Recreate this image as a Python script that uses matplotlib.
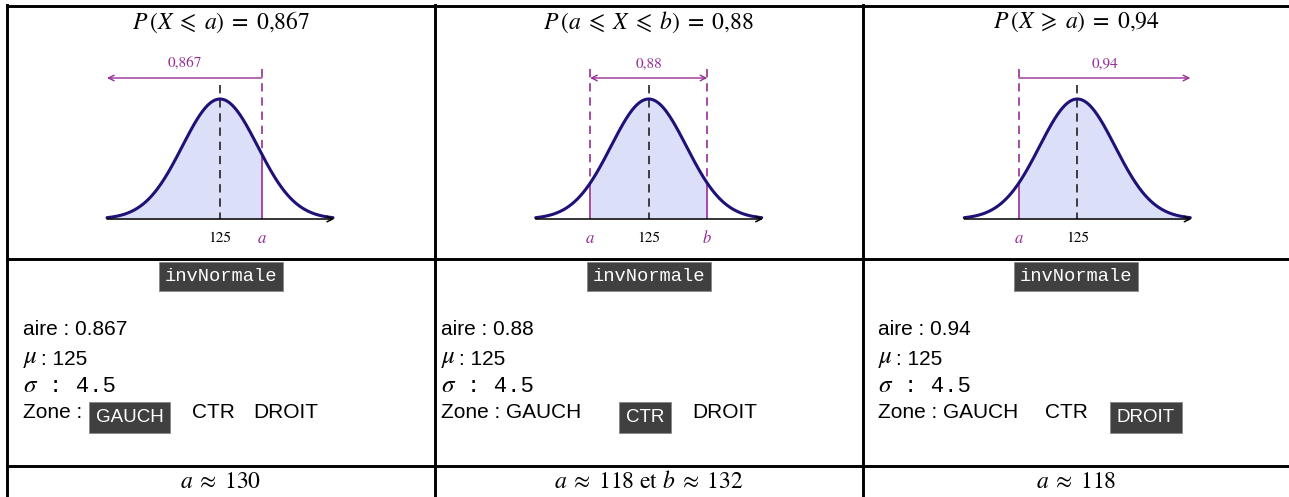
import numpy as np
import matplotlib.pyplot as plt

plt.rcParams['mathtext.fontset'] = 'stix'

# loi normale utilisée dans les trois cas
mu = 125
sigma = 4.5
aires = [0.867, 0.88, 0.94]
zones = ['GAUCH', 'CTR', 'DROIT']
titres = [r'$P\,(X\;\leqslant\;a)\;=\;0{,}867$',
          r'$P\,(a\;\leqslant\;X\;\leqslant\;b)\;=\;0{,}88$',
          r'$P\,(X\;\geqslant\;a)\;=\;0{,}94$']
etiquettes = ['0,867', '0,88', '0,94']
bornes = [[130], [118, 132], [118]]
resultats = [r'$a\;\approx\;130$',
             r'$a\;\approx\;118\ \mathrm{et}\ b\;\approx\;132$',
             r'$a\;\approx\;118$']

W, H = 1289, 497
BLEU = '#1e1278'
REMPL = '#dbe0f8'
VIOLET = '#952f95'
GRIS = '#404040'
SANS = 'Liberation Sans'
MONO = 'Liberation Mono'

fig = plt.figure(figsize=(W / 100, H / 100), dpi=100)
ax0 = fig.add_axes([0, 0, 1, 1])
ax0.set_xlim(0, W)
ax0.set_ylim(H, 0)
ax0.axis('off')

# tableau
cols = [7, 435, 862.5, W + 5]
for xc in cols:
    ax0.plot([xc, xc], [5, H + 5], color='black', lw=2.1, solid_capstyle='projecting')
for yl in [5.5, 259, 466]:
    ax0.plot([7, W + 5], [yl, yl], color='black', lw=2.1, solid_capstyle='projecting')

centres = [221, 648.7, 1076]
centres_courbe = [220, 648.7, 1077.3]
gauches = [23, 441, 878]


def px_axes(left, top, width, height):
    return fig.add_axes([left / W, 1 - (top + height) / H, width / W, height / H])


def densite(t):
    return np.exp(-0.5 * ((t - mu) / sigma) ** 2) / (sigma * np.sqrt(2 * np.pi))


pdf_max = densite(mu)
x = np.linspace(mu - 3 * sigma, mu + 3 * sigma, 400)
y = densite(x)

for i in range(3):
    c = centres_courbe[i]
    ax = px_axes(c - 113, 59, 226, 160)
    ax.set_xlim(mu - 3 * sigma, mu + 3 * sigma)
    ax.set_ylim(0, pdf_max * 160 / 120)
    ax.axis('off')

    zone = zones[i]
    if zone == 'GAUCH':
        m = x <= bornes[i][0]
    elif zone == 'CTR':
        m = (x >= bornes[i][0]) & (x <= bornes[i][1])
    else:
        m = x >= bornes[i][0]
    ax.fill_between(x[m], 0, y[m], color=REMPL, lw=0)

    # axe des abscisses
    ax.annotate('', xy=(mu + 3 * sigma + 0.15, 0), xytext=(mu - 3 * sigma, 0),
                arrowprops=dict(arrowstyle='->', color='black', lw=1.1,
                                shrinkA=0, shrinkB=0), annotation_clip=False)

    # moyenne (tirets tracés depuis le haut)
    ax.plot([mu, mu], [pdf_max * 134 / 120, 0], color='#222222', lw=1.2,
            dashes=(5, 3.5))
    ax.text(mu, -pdf_max * 19 / 120, '125', ha='center', va='center',
            fontsize=11, family='STIXGeneral', clip_on=False)

    # bornes a et b
    noms = ['a', 'b']
    for k, b in enumerate(bornes[i]):
        yb = densite(b)
        ax.plot([b, b], [pdf_max * 150 / 120, yb], color=VIOLET, lw=1.2,
                dashes=(5, 3.5))
        ax.plot([b, b], [0, yb], color=VIOLET, lw=1.2)
        ax.text(b, -pdf_max * 19 / 120, '$' + noms[k] + '$', ha='center',
                va='center', fontsize=12, color=VIOLET, clip_on=False)

    ax.plot(x, y, color=BLEU, lw=2.2, solid_capstyle='round', clip_on=False)

    # flèche de l'aire
    ya = pdf_max * 141 / 120
    if zone == 'GAUCH':
        x1, x2, style = bornes[i][0], mu - 3 * sigma, '->'
    elif zone == 'CTR':
        x1, x2, style = bornes[i][0], bornes[i][1], '<->'
    else:
        x1, x2, style = bornes[i][0], mu + 3 * sigma, '->'
    ax.annotate('', xy=(x2, ya), xytext=(x1, ya),
                arrowprops=dict(arrowstyle=style, color=VIOLET, lw=1,
                                shrinkA=0, shrinkB=0), annotation_clip=False)
    ax.text((x1 + x2) / 2, pdf_max * 155 / 120, etiquettes[i], ha='center',
            va='center', fontsize=11, color=VIOLET, family='STIXGeneral',
            clip_on=False)

    # titre de la colonne
    ax0.text(centres[i], 22, titres[i], ha='center', va='center', fontsize=17)

    # écran de la calculatrice
    ax0.text(centres[i], 276.5, 'invNormale', ha='center', va='center',
             fontsize=13.5, family=MONO, color='white',
             bbox=dict(boxstyle='square,pad=0.3', fc=GRIS, ec='#888888', lw=0.6))
    g = gauches[i]
    ax0.text(g, 329.5, 'aire : %g' % aires[i], ha='left', va='center',
             fontsize=15, family=SANS)
    ax0.text(g, 358, r'$\mu$', ha='left', va='center', fontsize=18)
    ax0.text(g + 18, 359.5, ': %d' % mu, ha='left', va='center',
             fontsize=15, family=SANS)
    ax0.text(g, 385, r'$\sigma$', ha='left', va='center', fontsize=18)
    ax0.text(g + 26, 387, ': %g' % sigma, ha='left', va='center',
             fontsize=16, family=MONO)

    # résultat
    ax0.text(centres[i], 481, resultats[i], ha='center', va='center',
             fontsize=17)

# ligne « Zone » : abscisse de chaque choix (centre si le choix est encadré)
pos_zones = [[129.5, 192, 253], [None, 645, 692], [None, 1045, 1146]]
for i in range(3):
    g = gauches[i]
    for j, nom in enumerate(zones):
        if j == 0 and zones[i] != 'GAUCH':
            ax0.text(g, 412.5, 'Zone : ' + nom, ha='left', va='center',
                     fontsize=15, family=SANS)
        elif nom == zones[i]:
            if j == 0:
                ax0.text(g, 412.5, 'Zone :', ha='left', va='center',
                         fontsize=15, family=SANS)
            ax0.text(pos_zones[i][j], 417.5, nom, ha='center', va='center',
                     fontsize=13.5, family=SANS, color='white',
                     bbox=dict(boxstyle='square,pad=0.35', fc=GRIS,
                               ec='#888888', lw=0.6))
        else:
            ax0.text(pos_zones[i][j], 412.5, nom, ha='left', va='center',
                     fontsize=15, family=SANS)

fig.savefig('out.png', dpi=100)
